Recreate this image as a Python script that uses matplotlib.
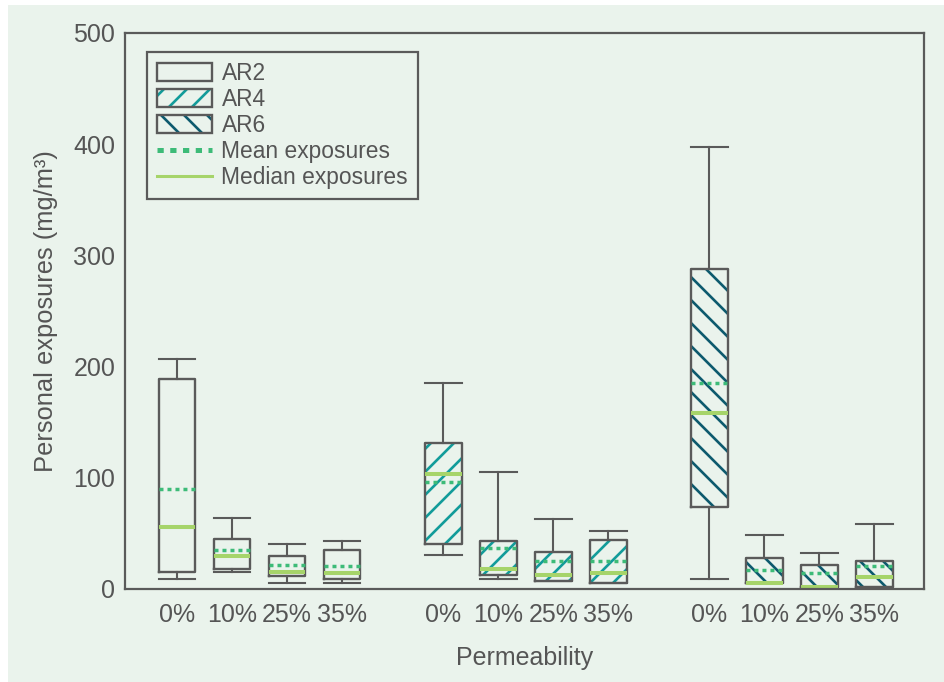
import matplotlib
matplotlib.use("Agg")
import matplotlib.pyplot as plt
from matplotlib.patches import Patch, Rectangle
from matplotlib.lines import Line2D

plt.rcParams['font.family'] = ['Liberation Sans', 'DejaVu Sans']

# ---- data (mg/m3) ----
groups = ["AR2", "AR4", "AR6"]
perm_labels = ["0%", "10%", "25%", "35%"]

ar2_whislo = [9.3, 15.6, 5.7, 5.7]
ar2_q1     = [15.6, 18.3, 12.0, 9.0]
ar2_med    = [55.8, 29.7, 15.6, 14.4]
ar2_mean   = [90.0, 35.0, 21.6, 21.0]
ar2_q3     = [188.8, 45.0, 29.7, 34.8]
ar2_whishi = [206.8, 63.8, 40.2, 43.2]

ar4_whislo = [30.6, 9.0, 7.5, 5.7]
ar4_q1     = [40.5, 12.9, 7.5, 5.7]
ar4_med    = [103.0, 17.7, 12.6, 14.4]
ar4_mean   = [96.2, 36.6, 25.2, 25.2]
ar4_q3     = [131.6, 43.2, 33.0, 44.3]
ar4_whishi = [185.0, 105.5, 62.7, 52.2]

ar6_whislo = [9.0, 5.1, 1.5, 1.5]
ar6_q1     = [74.0, 5.1, 1.5, 1.5]
ar6_med    = [158.3, 5.5, 2.0, 10.8]
ar6_mean   = [185.0, 17.1, 14.1, 21.0]
ar6_q3     = [288.0, 27.9, 21.6, 25.2]
ar6_whishi = [397.8, 48.3, 32.6, 58.5]

data = {
    "AR2": (ar2_whislo, ar2_q1, ar2_med, ar2_mean, ar2_q3, ar2_whishi),
    "AR4": (ar4_whislo, ar4_q1, ar4_med, ar4_mean, ar4_q3, ar4_whishi),
    "AR6": (ar6_whislo, ar6_q1, ar6_med, ar6_mean, ar6_q3, ar6_whishi),
}

# ---- style ----
DPI = 138
S = 100.0 / DPI   # sizes below are given as "points at 100 dpi"
BG = "#eaf3ec"
GREY = "#5a5a5a"
TXT = "#555555"
MEAN_C = "#3dbb78"
MED_C = "#a6d46a"
hatch_style = {"AR2": (None, None), "AR4": ("//", "#129c9a"), "AR6": ("\\\\", "#0d5a6e")}

fig = plt.figure(figsize=(944 / DPI, 682 / DPI), dpi=DPI, facecolor="white")
fig.patches.append(Rectangle((8 / 944, 0), 1, 1 - 5 / 682, transform=fig.transFigure,
                             facecolor=BG, edgecolor="none", zorder=-10))
ax = fig.add_axes([125 / 944, 1 - 589 / 682, (924 - 125) / 944, (589 - 33) / 682])
ax.set_facecolor(BG)

plt.rcParams['hatch.linewidth'] = 1.9 * S
gap = 4.84
width = 0.67
positions_all = []
labels_all = []
for g, name in enumerate(groups):
    wl, q1, med, mn, q3, wh = data[name]
    stats = []
    for i in range(len(perm_labels)):
        stats.append(dict(whislo=wl[i], q1=q1[i], med=med[i], mean=mn[i],
                          q3=q3[i], whishi=wh[i], fliers=[]))
    pos = [i + g * gap for i in range(len(perm_labels))]
    positions_all += pos
    labels_all += perm_labels
    hatch, hcol = hatch_style[name]
    if hatch:
        ax.bxp(stats, positions=pos, widths=width, patch_artist=True,
               showcaps=False, showmeans=False,
               boxprops=dict(facecolor="none", edgecolor=hcol, linewidth=0, hatch=hatch),
               whiskerprops=dict(linewidth=0), medianprops=dict(linewidth=0))
    ax.bxp(stats, positions=pos, widths=width, capwidths=width,
           showmeans=True, meanline=True,
           boxprops=dict(color=GREY, linewidth=1.7 * S),
           whiskerprops=dict(color=GREY, linewidth=1.5 * S),
           capprops=dict(color=GREY, linewidth=1.5 * S),
           medianprops=dict(color=MED_C, linewidth=2.9 * S, solid_capstyle="butt"),
           meanprops=dict(color=MEAN_C, linewidth=2.5 * S, linestyle=(0, (1.15, 1.15))))

ax.set_xlim(-0.945, 13.58)
ax.set_ylim(0, 500)
ax.set_yticks([0, 100, 200, 300, 400, 500])
ax.set_xticks(positions_all)
ax.set_xticklabels(labels_all)
ax.tick_params(axis="both", length=0, labelsize=18 * S, colors=TXT)
ax.tick_params(axis="x", pad=10 * S)
ax.tick_params(axis="y", pad=7 * S)
for s in ax.spines.values():
    s.set_color(GREY)
    s.set_linewidth(1.6 * S)

ax.set_xlabel("Permeability", fontsize=18 * S, color=TXT, labelpad=14 * S)
ax.set_ylabel("Personal exposures (mg/m³)", fontsize=18.4 * S, color=TXT, labelpad=11 * S)

handles = [
    Patch(facecolor="none", edgecolor=GREY, linewidth=1.7 * S, label="AR2"),
    Patch(facecolor="none", edgecolor="#129c9a", hatch="//", linewidth=0, label="AR4"),
    Patch(facecolor="none", edgecolor="#0d5a6e", hatch="\\\\", linewidth=0, label="AR6"),
    Line2D([], [], color=MEAN_C, linewidth=3.6 * S, linestyle=(0, (1.25, 1.3)), label="Mean exposures"),
    Line2D([], [], color=MED_C, linewidth=2.2 * S, label="Median exposures"),
]
leg = ax.legend(handles=handles, loc="upper left", bbox_to_anchor=(0.0275, 0.9658),
                borderaxespad=0, prop={"size": 16.4 * S}, frameon=True, fancybox=False,
                edgecolor=GREY, facecolor=BG, framealpha=1,
                handlelength=2.45, handleheight=0.85, handletextpad=0.4,
                labelspacing=0.14, borderpad=0.42)
leg.get_frame().set_linewidth(1.6 * S)
for t in leg.get_texts():
    t.set_color(TXT)
fig.canvas.draw()
# outline boxes for hatched legend handles
for h in leg.legend_handles[1:3]:
    bb = h.get_window_extent()
    r = Rectangle((bb.x0, bb.y0), bb.width, bb.height, transform=None,
                  facecolor="none", edgecolor=GREY, linewidth=1.7 * S, zorder=10)
    fig.patches.append(r)

fig.savefig("out.png", dpi=DPI, facecolor="white")
